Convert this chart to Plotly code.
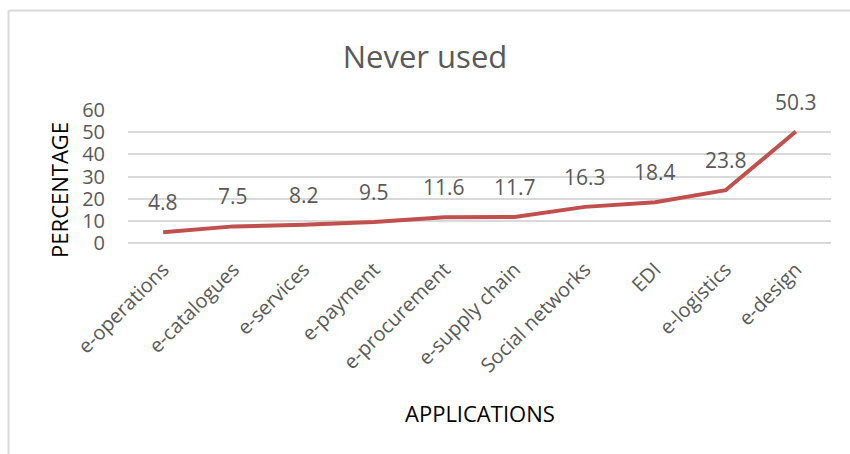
import plotly.graph_objects as go

# Share of firms that have never used each e-business application (%)
applications = ["e-operations", "e-catalogues", "e-services", "e-payment",
                "e-procurement", "e-supply chain", "Social networks", "EDI",
                "e-logistics", "e-design"]
never_used = [4.8, 7.5, 8.2, 9.5, 11.6, 11.7, 16.3, 18.4, 23.8, 50.3]
y_ticks = [0, 10, 20, 30, 40, 50, 60]

FONT = "Open Sans"
GREY = "#595959"
LINE_RED = "#C0504D"

fig = go.Figure()
fig.add_trace(go.Scatter(
    x=applications, y=never_used, mode="lines",
    line=dict(color=LINE_RED, width=4),
    hoverinfo="x+y", showlegend=False,
))

# value labels above each point
for cat, val in zip(applications, never_used):
    fig.add_annotation(x=cat, y=val, text=f"{val}", showarrow=False,
                       yshift=30, font=dict(family=FONT, size=21, color=GREY))

# axis titles
fig.add_annotation(xref="paper", yref="paper", x=0.5, y=-1.28, text="APPLICATIONS",
                   xanchor="center", yanchor="middle", showarrow=False,
                   font=dict(family=FONT, size=22, color="#000000"))
fig.add_annotation(xref="paper", yref="paper", x=-0.098, y=0.40, text="PERCENTAGE",
                   xanchor="center", yanchor="middle", textangle=-90, showarrow=False,
                   font=dict(family=FONT, size=22, color="#000000"))

# chart frame (top and left edges)
fig.add_shape(type="line", xref="paper", yref="paper", x0=-0.17, x1=1.05,
              y0=1.749, y1=1.749, line=dict(color="#D9D9D9", width=2))
fig.add_shape(type="line", xref="paper", yref="paper", x0=-0.170, x1=-0.170,
              y0=1.749, y1=-1.6, line=dict(color="#D9D9D9", width=2))

fig.update_layout(
    width=850, height=454,
    margin=dict(l=128, r=19, t=110, b=211),
    paper_bgcolor="white", plot_bgcolor="white",
    title=dict(text="Never used", x=0.5, xanchor="center", y=0.875, yanchor="middle",
               font=dict(family=FONT, size=31, color=GREY)),
    font=dict(family=FONT, color=GREY),
    xaxis=dict(range=[-0.5, len(applications) - 0.5], showgrid=False, showline=False,
               zeroline=False, ticks="", tickangle=-45, ticklabelstandoff=10,
               tickfont=dict(family=FONT, size=20, color=GREY), fixedrange=True),
    yaxis=dict(range=[0, 60], tickvals=y_ticks, showgrid=True,
               gridcolor="#D9D9D9", gridwidth=1.5, zeroline=True,
               zerolinecolor="#D9D9D9", zerolinewidth=1.5, showline=False,
               ticks="", ticklabelstandoff=22,
               tickfont=dict(family=FONT, size=20, color=GREY), fixedrange=True),
)

fig.write_html("out.html")
